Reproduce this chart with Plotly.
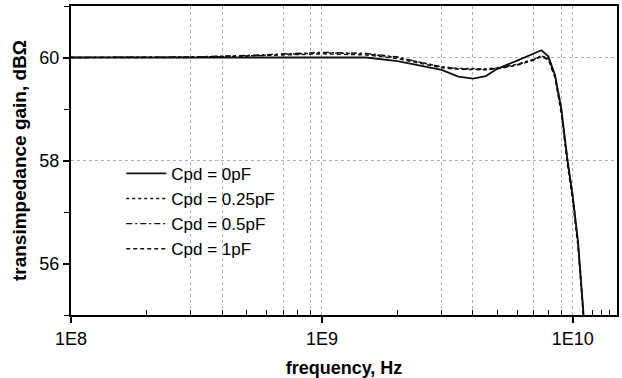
import plotly.graph_objects as go
import math

freq = [1e8, 2e8, 3e8, 5e8, 7e8, 1e9, 1.5e9, 2e9, 2.5e9, 3e9, 3.5e9, 4e9, 4.5e9,
        5e9, 6e9, 7e9, 7.5e9, 8e9, 8.5e9, 9e9, 9.5e9, 1e10, 1.05e10, 1.1e10, 1.15e10]

gain_0pF = [60.0, 60.0, 60.0, 60.0, 60.0, 60.0, 60.0, 59.93, 59.83, 59.76, 59.63, 59.59, 59.64,
            59.78, 59.94, 60.08, 60.14, 60.02, 59.65, 59.0, 58.05, 57.3, 56.4, 55.1, 53.5]
gain_025pF = [60.0, 60.0, 60.01, 60.03, 60.06, 60.09, 60.07, 60.0, 59.9, 59.82, 59.79, 59.78, 59.78,
              59.8, 59.87, 59.97, 60.03, 59.98, 59.65, 59.0, 58.05, 57.3, 56.4, 55.1, 53.5]
gain_05pF = [60.0, 60.0, 60.01, 60.04, 60.07, 60.1, 60.08, 60.01, 59.9, 59.82, 59.78, 59.77, 59.77,
             59.79, 59.86, 59.96, 60.04, 59.97, 59.62, 58.95, 58.0, 57.25, 56.35, 55.05, 53.4]
gain_1pF = [60.0, 60.0, 60.0, 60.03, 60.05, 60.07, 60.05, 59.98, 59.88, 59.8, 59.77, 59.76, 59.76,
            59.78, 59.85, 59.95, 60.02, 59.95, 59.6, 58.9, 57.95, 57.2, 56.3, 55.0, 53.3]

series_names = ["Cpd = 0pF", "Cpd = 0.25pF", "Cpd = 0.5pF", "Cpd = 1pF"]
series_dash = ["solid", "dot", "6px,3px,2px,3px", "4px,3px"]
series_width = [1.8, 1.4, 1.4, 1.4]

x_tick_vals = [1e8, 1e9, 1e10]
x_tick_text = ["1E8", "1E9", "1E10"]
x_minor_vals = [m * 10 ** e for e in (8, 9) for m in range(2, 10)] + [1.1e10, 1.2e10, 1.3e10, 1.4e10, 1.5e10]
x_grid_vals = [3e8, 4e8, 7e8, 9e8, 1e9, 3e9, 4e9, 7e9, 9e9, 1e10]
y_tick_vals = [56, 58, 60]
y_minor_vals = [55, 57, 59, 61]
y_grid_vals = [58, 60]

x_range = [math.log10(1e8), math.log10(1.5e10)]
y_range = [55, 61]

fig = go.Figure()
for vals, name, dash, w in zip([gain_0pF, gain_025pF, gain_05pF, gain_1pF],
                               series_names, series_dash, series_width):
    fig.add_trace(go.Scatter(x=freq, y=vals, mode="lines", name=name,
                             line=dict(color="#111111", width=w, dash=dash)))

# empty trace that registers the overlay (grid-only) axes
fig.add_trace(go.Scatter(x=[], y=[], xaxis="x2", yaxis="y2", showlegend=False,
                         hoverinfo="skip", mode="lines"))

font_family = "Liberation Sans, Arial, sans-serif"

fig.update_layout(
    width=622, height=378,
    margin=dict(l=71, r=5, t=6, b=63),
    paper_bgcolor="white", plot_bgcolor="white",
    font=dict(family=font_family, size=18, color="black"),
    showlegend=True,
    legend=dict(x=0.092, y=0.515, xanchor="left", yanchor="top",
                bgcolor="rgba(0,0,0,0)", borderwidth=0, itemwidth=40,
                font=dict(size=17), tracegroupgap=0),
    xaxis=dict(type="log", range=x_range, tickmode="array", tickvals=x_tick_vals,
               ticktext=x_tick_text, ticks="outside", ticklen=6, tickwidth=1.5,
               tickcolor="black", showline=True, linewidth=2, linecolor="black",
               mirror=True, showgrid=False, zeroline=False, automargin=False,
               minor=dict(tickmode="array", tickvals=x_minor_vals, ticks="inside",
                          ticklen=5, tickwidth=1.2, tickcolor="black", showgrid=False),
               title=dict(text="<b>frequency, Hz</b>", standoff=14,
                          font=dict(size=18))),
    yaxis=dict(range=y_range, tickmode="array", tickvals=y_tick_vals, ticks="outside",
               ticklen=6, tickwidth=1.5, tickcolor="black", showline=True,
               linewidth=2, linecolor="black", mirror=True, showgrid=False,
               zeroline=False, automargin=False,
               minor=dict(tickmode="array", tickvals=y_minor_vals, ticks="outside",
                          ticklen=5, tickwidth=1.2, tickcolor="black", showgrid=False),
               title=dict(text="<b>transimpedance gain, dBΩ</b>", standoff=8,
                          font=dict(size=19))),
    xaxis2=dict(type="log", range=x_range, overlaying="x", anchor="y",
                tickmode="array", tickvals=x_grid_vals, showticklabels=False,
                ticks="", showline=False, showgrid=True, gridcolor="#b0b0b0",
                griddash="dot", gridwidth=1, zeroline=False, automargin=False),
    yaxis2=dict(range=y_range, overlaying="y", anchor="x", tickmode="array",
                tickvals=y_grid_vals, showticklabels=False, ticks="", showline=False,
                showgrid=True, gridcolor="#b0b0b0", griddash="dot", gridwidth=1,
                zeroline=False, automargin=False),
)

fig.write_html("out.html", config={"displayModeBar": False},
               post_script="document.body.style.margin='0';document.body.style.overflow='hidden';")
